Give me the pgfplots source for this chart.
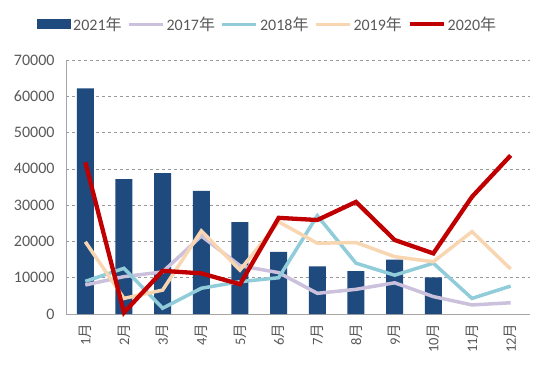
\documentclass[border=0pt]{standalone}
\usepackage{pgfplots}
\pgfplotsset{compat=1.18}
\usepackage{fontspec}
\setmainfont{Carlito}
\newfontfamily\cjk{Noto Sans CJK SC}
\definecolor{navy}{HTML}{1F4A7E}
\definecolor{redc}{HTML}{C00000}
\definecolor{peach}{HTML}{F9D6B2}
\definecolor{cyanc}{HTML}{90CCD9}
\definecolor{lav}{HTML}{CBC1DC}
\definecolor{txt}{HTML}{595959}
\definecolor{axc}{HTML}{A6A6A6}
\begin{document}
\begin{tikzpicture}
\path[use as bounding box] (-66pt,-54pt) rectangle (484pt,314pt);
\begin{axis}[
  at={(0pt,0pt)}, anchor=south west,
  scale only axis, width=464pt, height=254pt,
  xmin=0.5, xmax=12.5, ymin=0, ymax=70000,
  xtick={1,...,12},
  xticklabels={1{\cjk 月},2{\cjk 月},3{\cjk 月},4{\cjk 月},5{\cjk 月},6{\cjk 月},7{\cjk 月},8{\cjk 月},9{\cjk 月},10{\cjk 月},11{\cjk 月},12{\cjk 月}},
  xticklabel style={rotate=90, anchor=east, font=\fontsize{14.5}{16}\selectfont, text=txt},
  xticklabel shift=6pt,
  ytick={0,10000,...,70000},
  yticklabel style={font=\fontsize{16}{18}\selectfont, text=txt},
  yticklabel shift=8pt,
  /pgf/number format/assume math mode=true,
  scaled y ticks=false,
  yticklabel={\pgfmathprintnumber[fixed,1000 sep={}]{\tick}},
  major tick length=0pt,
  axis x line*=bottom, axis y line*=left,
  axis line style={axc, line width=0.8pt},
  x axis line style={-}, y axis line style={-},
  ymajorgrids, grid style={dashed, gray!80, line width=0.6pt},
  clip=false,
  legend columns=5,
  legend style={at={(0,1)}, anchor=south west, xshift=-29pt, yshift=26pt, draw=none, fill=none,
    font=\fontsize{16}{18}\selectfont, text=txt,
    /tikz/every even column/.append style={column sep=3.5pt},
    /tikz/every odd column/.append style={column sep=0pt},
    inner sep=0pt},
  legend image code/.code={\draw[#1] (0pt,0pt) -- (34pt,0pt);},
]
\addplot[ybar, bar width=17pt, fill=navy, draw=none,
  legend image code/.code={\fill[navy] (0pt,-5pt) rectangle (34pt,5pt);}]
  coordinates {(1,62200) (2,37200) (3,38800) (4,33900) (5,25300) (6,17100) (7,13100) (8,11800) (9,15000) (10,10100)};
\addlegendentry{2021{\cjk 年}}
\addplot[lav, line width=3.5pt] coordinates {(1,8000) (2,10300) (3,11600) (4,21500) (5,13300) (6,11400) (7,5700) (8,6800) (9,8600) (10,4800) (11,2500) (12,3100)};
\addlegendentry{2017{\cjk 年}}
\addplot[cyanc, line width=3.5pt] coordinates {(1,9000) (2,12600) (3,1600) (4,7100) (5,8900) (6,10000) (7,27100) (8,14000) (9,10700) (10,14000) (11,4300) (12,7700)};
\addlegendentry{2018{\cjk 年}}
\addplot[peach, line width=3.5pt] coordinates {(1,19900) (2,4300) (3,6600) (4,22900) (5,12100) (6,25400) (7,19500) (8,19700) (9,15800) (10,14400) (11,22700) (12,12400)};
\addlegendentry{2019{\cjk 年}}
\addplot[redc, line width=4.3pt] coordinates {(1,41800) (2,400) (3,11900) (4,11200) (5,8200) (6,26500) (7,25900) (8,30900) (9,20400) (10,16700) (11,32300) (12,43700)};
\addlegendentry{2020{\cjk 年}}
\end{axis}
\end{tikzpicture}
\end{document}
